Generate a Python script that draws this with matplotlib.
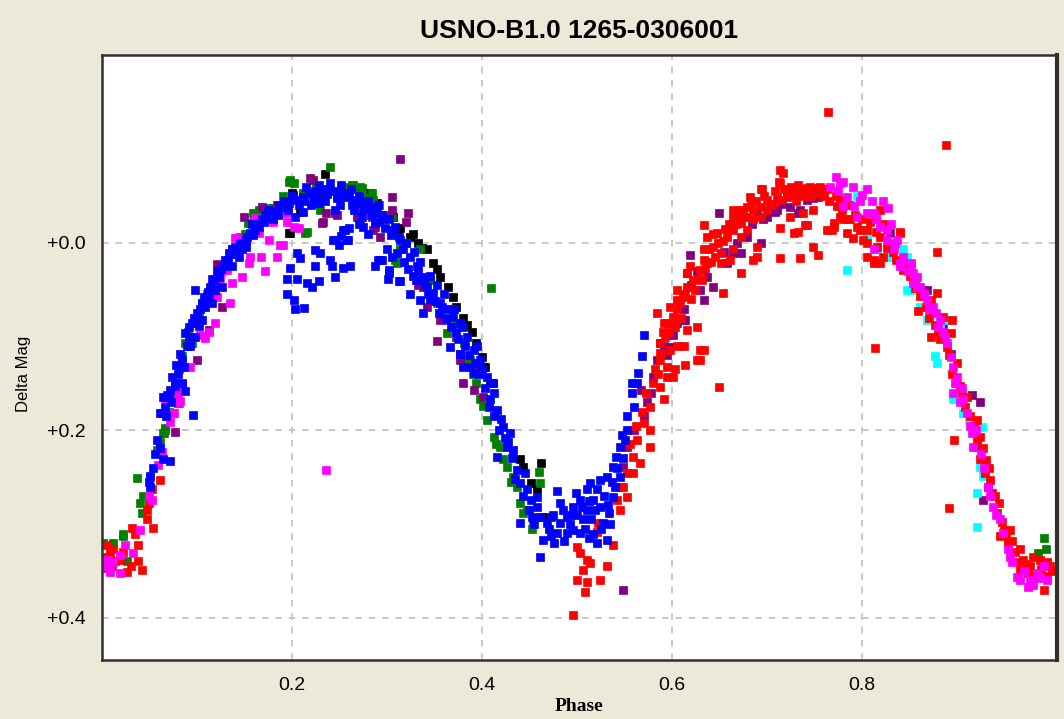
import numpy as np
import matplotlib.pyplot as plt

# (phase, delta mag), one list per observing run colour
blue_pts = [
    (0.051, 0.249), (0.049, 0.255), (0.051, 0.260), (0.054, 0.240), (0.061, 0.219), (0.064, 0.231),
    (0.072, 0.233), (0.061, 0.181), (0.066, 0.175), (0.064, 0.164), (0.070, 0.164), (0.077, 0.153),
    (0.084, 0.149), (0.087, 0.158), (0.096, 0.184), (0.068, 0.162), (0.063, 0.181), (0.071, 0.157),
    (0.074, 0.143), (0.077, 0.149), (0.084, 0.125), (0.086, 0.132), (0.087, 0.096), (0.092, 0.100),
    (0.098, 0.100), (0.102, 0.089), (0.105, 0.082), (0.098, 0.050), (0.105, 0.064), (0.113, 0.058),
    (0.116, 0.064), (0.119, 0.050), (0.126, 0.047), (0.108, 0.068), (0.116, 0.039), (0.123, 0.036),
    (0.129, 0.018), (0.134, 0.011), (0.137, 0.007), (0.140, 0.004), (0.147, 0.007), (0.151, -0.003),
    (0.156, -0.011), (0.161, -0.014), (0.165, -0.017), (0.168, -0.025), (0.176, -0.028), (0.182, -0.033),
    (0.190, -0.038), (0.197, -0.043), (0.203, -0.046), (0.211, -0.049), (0.218, -0.053), (0.224, -0.055),
    (0.232, -0.057), (0.239, -0.057), (0.245, -0.055), (0.253, -0.053), (0.260, -0.049), (0.266, -0.046),
    (0.274, -0.043), (0.281, -0.038), (0.287, -0.035), (0.295, -0.030), (0.302, -0.025), (0.308, -0.017),
    (0.313, -0.006), (0.305, 0.015), (0.295, 0.018), (0.302, 0.029), (0.211, -0.033), (0.203, -0.028),
    (0.228, -0.043), (0.245, -0.035), (0.274, -0.028), (0.287, -0.021), (0.151, 0.004), (0.144, 0.015),
    (0.137, 0.025), (0.110, 0.060), (0.095, 0.085), (0.080, 0.140), (0.093, 0.110), (0.131, 0.022),
    (0.145, 0.000), (0.158, -0.020), (0.172, -0.030), (0.186, -0.040), (0.200, -0.050), (0.215, -0.060),
    (0.228, -0.062), (0.240, -0.064), (0.252, -0.062), (0.262, -0.058), (0.270, -0.050), (0.280, -0.045),
    (0.290, -0.040), (0.250, -0.040), (0.235, -0.045), (0.220, -0.040), (0.265, -0.035), (0.270, -0.020),
    (0.280, -0.010), (0.100, 0.075), (0.103, 0.070), (0.107, 0.058), (0.111, 0.052), (0.114, 0.047),
    (0.118, 0.040), (0.121, 0.030), (0.125, 0.028), (0.128, 0.025), (0.133, 0.018), (0.139, 0.012),
    (0.143, 0.006), (0.148, 0.000), (0.153, -0.006), (0.159, -0.008), (0.163, -0.020), (0.170, -0.022),
    (0.175, -0.035), (0.180, -0.026), (0.185, -0.030), (0.192, -0.045), (0.196, -0.035), (0.207, -0.040),
    (0.213, -0.045), (0.222, -0.048), (0.230, -0.050), (0.237, -0.052), (0.247, -0.048), (0.257, -0.050),
    (0.263, -0.040), (0.268, -0.042), (0.276, -0.036), (0.283, -0.030), (0.292, -0.022), (0.298, -0.016),
    (0.304, -0.008), (0.078, 0.130), (0.082, 0.118), (0.089, 0.110), (0.091, 0.090), (0.097, 0.080),
    (0.058, 0.210), (0.056, 0.225), (0.067, 0.185), (0.073, 0.170),
    # scatter under the first maximum
    (0.205, 0.011), (0.208, 0.016), (0.198, 0.027), (0.195, 0.039), (0.205, 0.039), (0.216, 0.043),
    (0.221, 0.047), (0.195, 0.055), (0.202, 0.061), (0.203, 0.071), (0.213, 0.069), (0.228, 0.041),
    (0.224, 0.025), (0.224, 0.008), (0.229, 0.011), (0.245, 0.036), (0.240, 0.018), (0.242, 0.025),
    (0.254, 0.027), (0.261, 0.025), (0.245, -0.003), (0.252, -0.007), (0.258, -0.003), (0.260, -0.016),
    (0.249, 0.002), (0.254, -0.014), (0.287, 0.025), (0.302, 0.032), (0.313, 0.041), (0.290, 0.018),
    (0.256, -0.014), (0.243, -0.003), (0.259, -0.003),
    # descending branch
    (0.279, -0.043), (0.289, -0.032), (0.296, -0.025), (0.306, -0.014), (0.314, -0.003), (0.317, 0.007),
    (0.324, 0.015), (0.331, 0.025), (0.338, 0.036), (0.342, 0.047), (0.348, 0.053), (0.356, 0.064),
    (0.363, 0.071), (0.369, 0.079), (0.377, 0.085), (0.384, 0.100), (0.391, 0.114), (0.398, 0.125),
    (0.405, 0.143), (0.412, 0.160), (0.293, 0.018), (0.301, 0.039), (0.314, 0.041), (0.324, 0.055),
    (0.335, 0.061), (0.338, 0.075), (0.366, 0.111), (0.377, 0.118), (0.387, 0.132), (0.300, 0.007),
    (0.310, 0.011), (0.275, -0.017), (0.320, 0.000), (0.328, 0.010), (0.335, 0.020), (0.345, 0.035),
    (0.352, 0.045), (0.360, 0.055), (0.370, 0.070), (0.380, 0.090), (0.395, 0.110), (0.400, 0.135),
    (0.410, 0.150), (0.330, 0.040), (0.345, 0.060), (0.355, 0.075), (0.372, 0.095),
    (0.380, 0.132), (0.391, 0.139), (0.408, 0.167), (0.416, 0.178), (0.422, 0.196), (0.429, 0.203),
    (0.426, 0.218), (0.433, 0.221), (0.416, 0.228), (0.437, 0.242), (0.440, 0.256), (0.447, 0.263),
    (0.451, 0.274), (0.458, 0.282), (0.461, 0.292), (0.318, 0.020), (0.322, 0.028), (0.327, 0.035),
    (0.333, 0.030), (0.340, 0.045), (0.343, 0.055), (0.350, 0.062), (0.358, 0.068), (0.362, 0.080),
    (0.367, 0.090), (0.375, 0.102), (0.382, 0.110), (0.386, 0.120), (0.393, 0.128), (0.397, 0.140),
    (0.403, 0.155), (0.407, 0.175), (0.413, 0.185), (0.418, 0.200), (0.424, 0.208), (0.431, 0.230),
    (0.435, 0.252), (0.443, 0.270), (0.449, 0.285), (0.453, 0.292), (0.445, 0.245), (0.420, 0.188),
    (0.427, 0.212),
    # minimum
    (0.440, 0.299), (0.468, 0.299), (0.464, 0.317), (0.472, 0.313), (0.482, 0.299), (0.489, 0.292),
    (0.485, 0.285), (0.496, 0.282), (0.503, 0.274), (0.510, 0.263), (0.514, 0.256), (0.521, 0.263),
    (0.524, 0.253), (0.517, 0.274), (0.506, 0.295), (0.496, 0.306), (0.489, 0.310), (0.479, 0.310),
    (0.503, 0.310), (0.517, 0.311), (0.527, 0.299), (0.531, 0.317), (0.534, 0.288), (0.538, 0.271),
    (0.531, 0.250), (0.538, 0.239), (0.545, 0.218), (0.472, 0.292), (0.510, 0.285), (0.524, 0.282),
    (0.482, 0.277), (0.499, 0.267), (0.521, 0.320), (0.458, 0.271), (0.461, 0.335), (0.479, 0.265),
    (0.470, 0.305), (0.475, 0.290), (0.492, 0.300), (0.500, 0.290), (0.508, 0.305), (0.513, 0.275),
    (0.528, 0.270), (0.535, 0.300), (0.540, 0.260), (0.455, 0.300), (0.476, 0.320), (0.515, 0.295),
    (0.486, 0.318), (0.494, 0.290), (0.505, 0.282), (0.512, 0.315), (0.519, 0.285), (0.525, 0.305),
    (0.532, 0.280), (0.537, 0.255), (0.541, 0.228), (0.547, 0.205), (0.552, 0.185),
    # start of the rise
    (0.548, 0.230), (0.550, 0.210), (0.553, 0.200), (0.558, 0.160), (0.560, 0.175), (0.563, 0.150),
    (0.564, 0.139), (0.568, 0.121), (0.570, 0.098), (0.558, 0.149), (0.545, 0.250), (0.542, 0.240),
]

red_pts = [
    (0.005, 0.322), (0.008, 0.331), (0.005, 0.347), (0.014, 0.339), (0.019, 0.338), (0.026, 0.351),
    (0.038, 0.322), (0.038, 0.339), (0.042, 0.349), (0.032, 0.304), (0.035, 0.311), (0.054, 0.304),
    (0.047, 0.295), (0.047, 0.285), (0.049, 0.278), (0.061, 0.253), (0.053, 0.263), (0.012, 0.327),
    (0.003, 0.335), (0.010, 0.345), (0.022, 0.330), (0.030, 0.345),
    # points below the minimum
    (0.500, 0.324), (0.503, 0.331), (0.510, 0.338), (0.506, 0.349), (0.514, 0.342), (0.500, 0.360),
    (0.510, 0.362), (0.524, 0.360), (0.531, 0.345), (0.508, 0.372), (0.496, 0.397), (0.522, 0.299),
    (0.538, 0.322), (0.521, 0.308),
    # rising branch
    (0.584, 0.075), (0.595, 0.085), (0.605, 0.071), (0.616, 0.093), (0.587, 0.125), (0.601, 0.143),
    (0.587, 0.154), (0.591, 0.167), (0.577, 0.175), (0.570, 0.192), (0.577, 0.200), (0.563, 0.210),
    (0.577, 0.218), (0.559, 0.228), (0.566, 0.235), (0.553, 0.245), (0.559, 0.245), (0.548, 0.260),
    (0.553, 0.271), (0.542, 0.274), (0.545, 0.285), (0.603, 0.135), (0.614, 0.130), (0.626, 0.125),
    (0.598, 0.068), (0.608, 0.064), (0.605, 0.050), (0.616, 0.047), (0.622, 0.040), (0.629, 0.029),
    (0.619, 0.025), (0.637, 0.021), (0.633, 0.007), (0.643, 0.004), (0.651, 0.011), (0.637, -0.006),
    (0.647, -0.011), (0.658, -0.006), (0.664, -0.014), (0.672, -0.021), (0.664, -0.028), (0.679, -0.028),
    (0.685, -0.035), (0.693, -0.038), (0.679, -0.038), (0.700, -0.046), (0.710, -0.049), (0.721, -0.053),
    (0.732, -0.057), (0.742, -0.059), (0.753, -0.059), (0.759, -0.057), (0.693, -0.057), (0.682, -0.049),
    (0.633, -0.019), (0.643, -0.009), (0.616, 0.032), (0.605, 0.061), (0.591, 0.085), (0.601, 0.085),
    (0.587, 0.107), (0.605, 0.110), (0.595, 0.132), (0.582, 0.135), (0.626, 0.090), (0.633, 0.114),
    (0.629, 0.125), (0.654, 0.053), (0.672, 0.032), (0.685, 0.018), (0.714, 0.016), (0.735, 0.016),
    (0.748, 0.004), (0.753, 0.013), (0.728, -0.011), (0.740, -0.019), (0.714, -0.078), (0.712, -0.065),
    (0.763, -0.014), (0.770, -0.021), (0.780, -0.025), (0.587, 0.117), (0.598, 0.114), (0.612, 0.110),
    (0.629, 0.114), (0.595, 0.143), (0.601, 0.079), (0.556, 0.215), (0.562, 0.195), (0.568, 0.180),
    (0.573, 0.160), (0.580, 0.150), (0.585, 0.140), (0.590, 0.095), (0.593, 0.100), (0.597, 0.095),
    (0.603, 0.090), (0.609, 0.080), (0.611, 0.058), (0.614, 0.055), (0.620, 0.060), (0.624, 0.050),
    (0.627, 0.038), (0.631, 0.040), (0.635, 0.028), (0.641, 0.020), (0.645, 0.015), (0.648, 0.000),
    (0.653, -0.002), (0.656, -0.015), (0.660, -0.020), (0.667, -0.020), (0.670, -0.030), (0.675, -0.035),
    (0.683, -0.040), (0.688, -0.045), (0.697, -0.050), (0.703, -0.040), (0.708, -0.055), (0.718, -0.058),
    (0.725, -0.060), (0.730, -0.045), (0.736, -0.050), (0.745, -0.050), (0.750, -0.052), (0.760, -0.050),
    # second maximum
    (0.717, -0.075), (0.714, -0.064), (0.732, -0.062), (0.695, -0.057), (0.664, -0.035), (0.745, -0.060),
    (0.756, -0.060), (0.763, -0.057), (0.777, -0.046), (0.770, -0.017), (0.784, -0.025), (0.795, -0.017),
    (0.805, -0.014), (0.819, -0.035), (0.819, -0.006), (0.840, -0.012), (0.812, 0.018), (0.822, 0.015),
    (0.732, -0.012), (0.742, -0.019), (0.689, 0.015), (0.633, 0.018), (0.639, 0.007), (0.651, 0.021),
    (0.661, 0.018), (0.664, 0.007), (0.672, -0.006), (0.679, -0.014), (0.685, -0.025), (0.693, -0.028),
    (0.700, -0.035), (0.706, -0.042), (0.714, -0.046), (0.721, -0.049), (0.727, -0.053), (0.738, -0.057),
    (0.748, -0.057), (0.756, -0.055), (0.689, 0.004), (0.714, -0.016), (0.724, -0.028), (0.738, -0.032),
    (0.748, -0.035), (0.672, -0.035), (0.768, -0.014), (0.784, -0.011), (0.798, -0.014), (0.805, 0.000),
    (0.816, 0.004), (0.787, -0.025), (0.777, -0.028), (0.774, -0.039), (0.765, -0.045), (0.772, -0.050),
    (0.779, -0.035), (0.786, -0.040), (0.792, -0.030), (0.800, -0.025), (0.808, -0.022), (0.815, -0.012),
    (0.823, -0.020), (0.826, 0.005), (0.832, 0.010), (0.836, 0.018),
    # falling branch
    (0.843, 0.029), (0.854, 0.039), (0.861, 0.057), (0.872, 0.061), (0.879, 0.053), (0.874, 0.075),
    (0.885, 0.079), (0.894, 0.082), (0.872, 0.100), (0.882, 0.103), (0.889, 0.111), (0.893, 0.096),
    (0.900, 0.128), (0.903, 0.153), (0.910, 0.164), (0.921, 0.189), (0.924, 0.207), (0.927, 0.219),
    (0.924, 0.231), (0.929, 0.245), (0.935, 0.253), (0.937, 0.267), (0.942, 0.288), (0.949, 0.306),
    (0.956, 0.306), (0.945, 0.313), (0.953, 0.320), (0.966, 0.327), (0.969, 0.338), (0.977, 0.345),
    (0.980, 0.335), (0.987, 0.338), (0.991, 0.370), (0.966, 0.349), (0.805, 0.015), (0.812, 0.021),
    (0.819, 0.021), (0.801, -0.003), (0.840, -0.011), (0.790, -0.005), (0.859, 0.073), (0.998, 0.345),
    (0.995, 0.355), (0.846, 0.022), (0.850, 0.035), (0.856, 0.048), (0.864, 0.055), (0.867, 0.068),
    (0.870, 0.080), (0.877, 0.088), (0.880, 0.095), (0.886, 0.100), (0.891, 0.120), (0.895, 0.140),
    (0.899, 0.150), (0.905, 0.160), (0.908, 0.175), (0.913, 0.185), (0.918, 0.195), (0.921, 0.210),
    (0.930, 0.232), (0.933, 0.240), (0.940, 0.270), (0.944, 0.278), (0.947, 0.298), (0.951, 0.312),
    (0.958, 0.318), (0.961, 0.330), (0.963, 0.340), (0.972, 0.343), (0.975, 0.352), (0.982, 0.355),
    (0.988, 0.348), (0.994, 0.340), (1.000, 0.350),
    # outliers
    (0.764, -0.140), (0.888, -0.105), (0.649, 0.154), (0.814, 0.112), (0.891, 0.283), (0.897, 0.210),
    (0.879, 0.010),
]

magenta_pts = [
    (0.005, 0.338), (0.008, 0.351), (0.019, 0.333), (0.024, 0.322), (0.033, 0.331), (0.019, 0.352),
    (0.040, 0.306), (0.053, 0.274), (0.059, 0.237), (0.063, 0.223), (0.072, 0.191), (0.075, 0.181),
    (0.082, 0.169), (0.080, 0.160), (0.068, 0.165), (0.049, 0.270), (0.002, 0.345), (0.012, 0.340),
    (0.190, 0.002), (0.184, 0.015), (0.167, 0.015), (0.171, 0.030), (0.147, 0.036), (0.155, 0.021),
    (0.135, 0.064), (0.137, 0.043), (0.124, 0.037), (0.119, 0.085), (0.108, 0.101), (0.103, 0.098),
    (0.093, 0.132), (0.084, 0.151), (0.081, 0.171), (0.076, 0.181), (0.066, 0.165), (0.202, -0.017),
    (0.207, -0.016), (0.195, -0.022), (0.161, -0.027), (0.165, -0.011), (0.176, -0.003), (0.140, -0.005),
    (0.132, 0.029), (0.121, 0.058), (0.113, 0.095), (0.194, -0.032), (0.180, -0.022), (0.187, 0.002),
    (0.156, 0.015), (0.142, -0.005), (0.236, 0.242),
    (0.772, -0.070), (0.777, -0.064), (0.766, -0.060), (0.784, -0.049), (0.791, -0.039), (0.805, -0.057),
    (0.800, -0.051), (0.812, -0.032), (0.827, -0.037), (0.819, -0.017), (0.826, -0.014), (0.837, -0.003),
    (0.812, 0.007), (0.833, 0.007), (0.843, 0.015), (0.851, 0.021), (0.840, 0.025), (0.854, 0.032),
    (0.858, 0.047), (0.795, -0.028), (0.780, -0.039), (0.805, -0.032), (0.826, -0.003), (0.843, 0.018),
    (0.851, 0.025), (0.858, 0.036), (0.861, 0.047), (0.868, 0.061), (0.874, 0.068), (0.882, 0.082),
    (0.889, 0.107), (0.893, 0.122), (0.896, 0.132), (0.900, 0.143), (0.896, 0.160), (0.906, 0.167),
    (0.910, 0.181), (0.916, 0.203), (0.917, 0.218), (0.932, 0.260), (0.938, 0.282), (0.945, 0.295),
    (0.953, 0.327), (0.963, 0.356), (0.977, 0.360), (0.984, 0.352), (0.991, 0.345), (0.974, 0.367),
    (0.840, 0.021), (0.854, 0.043), (0.775, -0.055), (0.790, -0.060), (0.798, -0.045), (0.815, -0.025),
    (0.865, 0.055), (0.878, 0.075), (0.885, 0.095), (0.905, 0.155), (0.920, 0.200), (0.925, 0.225),
    (0.935, 0.270), (0.958, 0.340), (0.970, 0.350), (0.995, 0.360), (0.780, -0.065), (0.835, 0.000),
    (0.848, 0.030), (0.856, 0.040), (0.870, 0.070), (0.880, 0.090), (0.887, 0.100), (0.898, 0.150),
    (0.903, 0.170), (0.913, 0.195), (0.928, 0.240), (0.941, 0.290), (0.948, 0.310), (0.956, 0.335),
    (0.966, 0.360), (0.980, 0.365), (0.987, 0.358), (0.830, -0.020), (0.822, -0.045), (0.810, -0.045),
]

cyan_pts = [
    (0.782, -0.048), (0.784, 0.029), (0.805, -0.011), (0.816, -0.025), (0.829, 0.011), (0.843, 0.007),
    (0.847, 0.050), (0.805, -0.007), (0.816, 0.007), (0.829, 0.015), (0.847, 0.015), (0.851, 0.050),
    (0.861, 0.068), (0.868, 0.082), (0.877, 0.121), (0.879, 0.128), (0.896, 0.167), (0.906, 0.181),
    (0.912, 0.189), (0.926, 0.196), (0.924, 0.239), (0.927, 0.249), (0.921, 0.267), (0.921, 0.303),
    (0.889, 0.082), (0.882, 0.089), (0.790, -0.040), (0.795, -0.050),
]

purple_pts = [
    (0.077, 0.202), (0.080, 0.171), (0.149, -0.028), (0.168, -0.038), (0.219, -0.069), (0.232, -0.021),
    (0.245, -0.032), (0.270, -0.032), (0.284, -0.028), (0.287, -0.017), (0.305, -0.049), (0.305, -0.035),
    (0.314, -0.090), (0.121, 0.023), (0.126, 0.068), (0.100, 0.125), (0.123, 0.043), (0.113, 0.093),
    (0.222, -0.067), (0.236, -0.032), (0.247, -0.030), (0.233, -0.022), (0.268, -0.028), (0.271, -0.025),
    (0.285, -0.014), (0.184, -0.040), (0.322, -0.032), (0.320, -0.022), (0.293, -0.006), (0.333, 0.045),
    (0.338, 0.047), (0.342, 0.068), (0.356, 0.082), (0.363, 0.082), (0.352, 0.105), (0.373, 0.100),
    (0.377, 0.118), (0.380, 0.149), (0.394, 0.132), (0.401, 0.164), (0.391, 0.157), (0.377, 0.125),
    (0.548, 0.370), (0.567, 0.157), (0.570, 0.185), (0.553, 0.218), (0.548, 0.239), (0.545, 0.260),
    (0.587, 0.107), (0.598, 0.111), (0.612, 0.082), (0.580, 0.143), (0.649, -0.032), (0.619, 0.013),
    (0.616, 0.032), (0.637, 0.036), (0.629, 0.050), (0.633, 0.061), (0.643, 0.047), (0.658, 0.021),
    (0.664, 0.011), (0.672, 0.011), (0.679, -0.006), (0.693, 0.000), (0.689, -0.032), (0.700, -0.028),
    (0.710, -0.035), (0.724, -0.038), (0.732, -0.032), (0.742, -0.046), (0.753, -0.049), (0.612, 0.071),
    (0.614, 0.082), (0.601, 0.098), (0.591, 0.110), (0.584, 0.125), (0.708, -0.033), (0.735, -0.035),
    (0.748, -0.048), (0.829, -0.011), (0.868, 0.050), (0.885, 0.089), (0.893, 0.118), (0.916, 0.162),
    (0.924, 0.170), (0.921, 0.218), (0.932, 0.260), (0.927, 0.274), (0.574, 0.170), (0.560, 0.200),
    (0.620, 0.045), (0.626, 0.030), (0.655, 0.010), (0.668, 0.000), (0.684, -0.020), (0.696, -0.025),
    (0.716, -0.042), (0.728, -0.050), (0.740, -0.055), (0.757, -0.052), (0.605, 0.085), (0.595, 0.120),
    (0.578, 0.160),
]

green_pts = [
    (0.001, 0.320), (0.012, 0.320), (0.022, 0.313), (0.026, 0.339), (0.037, 0.251), (0.042, 0.288),
    (0.040, 0.278), (0.043, 0.270), (0.061, 0.212), (0.064, 0.203), (0.066, 0.197), (0.058, 0.221),
    (0.077, 0.157), (0.022, 0.311), (0.240, -0.081), (0.197, -0.065), (0.202, -0.064), (0.263, -0.062),
    (0.270, -0.059), (0.284, -0.053), (0.176, -0.037), (0.182, -0.035), (0.165, -0.035), (0.155, -0.021),
    (0.214, -0.011), (0.137, 0.007), (0.119, 0.043), (0.105, 0.064), (0.102, 0.079), (0.095, 0.107),
    (0.084, 0.121), (0.081, 0.135), (0.087, 0.107), (0.077, 0.164), (0.066, 0.200), (0.065, 0.203),
    (0.308, 0.018), (0.305, -0.028), (0.253, -0.049), (0.277, -0.049), (0.198, -0.067), (0.258, -0.060),
    (0.264, -0.062), (0.271, -0.060), (0.180, -0.037), (0.173, -0.035), (0.159, -0.032), (0.154, -0.021),
    (0.145, -0.006), (0.216, -0.012), (0.229, -0.035), (0.285, -0.046), (0.247, -0.049), (0.212, -0.053),
    (0.274, -0.059), (0.282, -0.046), (0.314, 0.007), (0.310, 0.021), (0.335, 0.007), (0.352, 0.064),
    (0.363, 0.096), (0.381, 0.107), (0.387, 0.125), (0.394, 0.149), (0.409, 0.048), (0.384, 0.128),
    (0.398, 0.167), (0.401, 0.174), (0.405, 0.189), (0.412, 0.207), (0.419, 0.218), (0.422, 0.231),
    (0.426, 0.239), (0.433, 0.250), (0.437, 0.260), (0.440, 0.277), (0.443, 0.288), (0.454, 0.299),
    (0.461, 0.256), (0.460, 0.244), (0.991, 0.315), (0.985, 0.331), (0.993, 0.327), (0.090, 0.095),
    (0.098, 0.085), (0.110, 0.055), (0.125, 0.030), (0.130, 0.020), (0.150, -0.010), (0.160, -0.025),
    (0.190, -0.050), (0.225, -0.060), (0.255, -0.058), (0.292, -0.040), (0.300, -0.030), (0.320, 0.000),
    (0.345, 0.040), (0.372, 0.085), (0.390, 0.140), (0.415, 0.215), (0.430, 0.255), (0.447, 0.285),
    (0.452, 0.305), (0.070, 0.180), (0.050, 0.250),
]

black_pts = [
    (0.235, -0.073), (0.197, -0.011), (0.281, -0.053), (0.305, -0.028), (0.311, -0.014), (0.200, -0.053),
    (0.282, -0.053), (0.201, -0.051), (0.198, -0.011), (0.208, -0.033), (0.289, -0.043), (0.306, -0.028),
    (0.314, -0.016), (0.324, -0.006), (0.333, 0.000), (0.342, 0.007), (0.348, 0.021), (0.356, 0.036),
    (0.364, 0.047), (0.369, 0.058), (0.373, 0.068), (0.389, 0.095), (0.394, 0.107), (0.400, 0.122),
    (0.403, 0.132), (0.411, 0.149), (0.401, 0.132), (0.408, 0.149), (0.440, 0.231), (0.443, 0.239),
    (0.451, 0.256), (0.458, 0.263), (0.464, 0.292), (0.462, 0.235), (0.380, 0.080), (0.384, 0.088),
    (0.327, -0.010), (0.337, 0.005), (0.352, 0.028),
]

x_ticks = [0.2, 0.4, 0.6, 0.8]
x_tick_labels = ['0.2', '0.4', '0.6', '0.8']
y_ticks = [0.0, 0.2, 0.4]
y_tick_labels = ['+0.0', '+0.2', '+0.4']

BG = '#ece9d8'
sans = ['Liberation Sans', 'DejaVu Sans']

fig = plt.figure(figsize=(10.64, 7.19), dpi=100, facecolor=BG)
ax = fig.add_axes([0.0959, 0.0821, 0.8975, 0.8414])
ax.set_facecolor('white')

# drawing order: later series sit on top
series = [(black_pts, 'black'), (green_pts, '#008000'), (purple_pts, '#800080'),
          (cyan_pts, '#00ffff'), (red_pts, '#ff0000'), (magenta_pts, '#ff00ff'),
          (blue_pts, '#0000ff')]
for pts, col in series:
    arr = np.array(pts)
    ax.plot(arr[:, 0], arr[:, 1], linestyle='none', marker='s', ms=5.5,
            mfc=col, mec=col, mew=0.5)

ax.set_xlim(0, 1.005)
ax.set_ylim(0.445, -0.2005)
ax.set_xticks(x_ticks)
ax.set_xticklabels(x_tick_labels, family=sans, fontsize=14)
ax.set_yticks(y_ticks)
ax.set_yticklabels(y_tick_labels, family=sans, fontsize=14)
ax.tick_params(length=0, pad=12)
ax.set_axisbelow(True)
ax.grid(True, color='#c0c0c0', linestyle=(0, (4, 4)), linewidth=1.2)

for side in ['left', 'bottom', 'right', 'top']:
    ax.spines[side].set_color('#303030')
    ax.spines[side].set_linewidth(1.8)
ax.spines['right'].set_linewidth(3)

ax.set_title('USNO-B1.0 1265-0306001', family=sans, fontsize=19,
             fontweight='bold', pad=12)
ax.set_xlabel('Phase', family=['Liberation Serif', 'DejaVu Serif'],
              fontsize=14, fontweight='semibold', labelpad=3)
ax.set_ylabel('Delta Mag', family=sans, fontsize=12)
ax.yaxis.set_label_coords(-0.074, 0.473)

fig.savefig('out.png', dpi=100, facecolor=BG)
